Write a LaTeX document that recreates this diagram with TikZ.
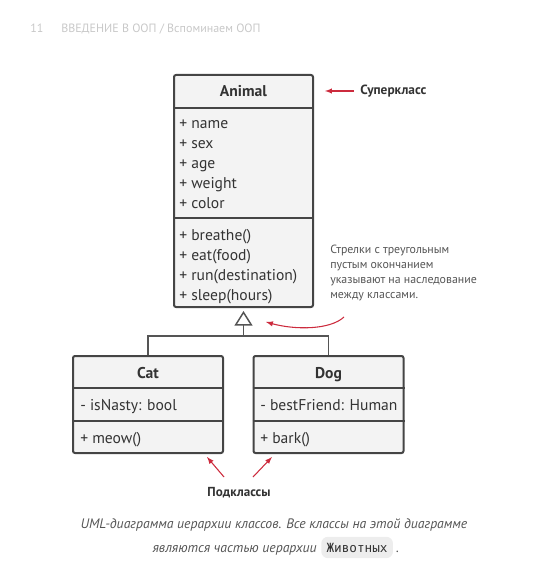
\documentclass[tikz,border=0pt]{standalone}
\usepackage{fontspec}
\setmainfont{PT Sans}
\newfontfamily\codefont{DejaVu Sans Mono}
\usetikzlibrary{arrows,arrows.meta}

\definecolor{boxline}{HTML}{454545}
\definecolor{boxfill}{HTML}{F3F3F3}
\definecolor{linegray}{HTML}{555555}
\definecolor{textgray}{HTML}{333333}
\definecolor{notegray}{HTML}{555555}
\definecolor{headgray}{HTML}{C8C8C8}
\definecolor{redarrow}{HTML}{CC2B3D}
\definecolor{codefill}{HTML}{EDEDED}

\begin{document}
\begin{tikzpicture}[x=0.75pt,y=-0.75pt]

\tikzset{classbox/.style = {draw=boxline, fill=boxfill, line width=1.5pt, rounded corners=1.5pt, inner sep=0pt}}
\tikzset{sep/.style = {draw=boxline, line width=1.5pt}}
\tikzset{member/.style = {anchor=base west, inner sep=0pt, text=textgray, font=\fontsize{11.7}{14}\selectfont}}
\tikzset{title/.style = {anchor=base, inner sep=0pt, text=textgray, font=\bfseries\fontsize{11.7}{14}\selectfont}}
\tikzset{arc/.style = {->,>=latex, draw=redarrow, line width=0.8pt}}
\tikzset{inherit/.style = {-{Triangle[open,width=13.5pt,length=11pt,line width=1.1pt]}, draw=linegray, line width=1.1pt}}
\tikzset{caption/.style = {anchor=base, inner sep=0pt, text=notegray, font=\itshape\fontsize{10.3}{18}\selectfont}}

\useasboundingbox (0,0) rectangle (545,573);

% header
\node[anchor=base west, inner sep=0pt, text=headgray, font=\fontsize{9}{11}\selectfont] (page) at (30,33) {11};
\node[anchor=base west, inner sep=0pt, text=headgray, font=\fontsize{9}{11}\selectfont] (chapter) at (61,33) {ВВЕДЕНИЕ В ООП / Вспоминаем ООП};

% classes
\node[classbox, minimum width=104.25pt, minimum height=174pt] (animal) at (243.5,191) {};
\node[classbox, minimum width=112.5pt, minimum height=72.75pt] (cat) at (148,404.5) {};
\node[classbox, minimum width=112.5pt, minimum height=72.75pt] (dog) at (328.5,404.5) {};

% separators
\draw[sep] (animal.west |- 0,108) -- (animal.east |- 0,108);
\draw[sep] (animal.west |- 0,218) -- (animal.east |- 0,218);
\draw[sep] (cat.west |- 0,388) -- (cat.east |- 0,388);
\draw[sep] (cat.west |- 0,421) -- (cat.east |- 0,421);
\draw[sep] (dog.west |- 0,388) -- (dog.east |- 0,388);
\draw[sep] (dog.west |- 0,421) -- (dog.east |- 0,421);

% titles
\node[title] (animaltitle) at (243.5,97) {Animal};
\node[title] (cattitle) at (148,378) {Cat};
\node[title] (dogtitle) at (328.5,378) {Dog};

% members
\node[member] (name) at (179,129) {+ name};
\node[member] (sex) at (179,149) {+ sex};
\node[member] (age) at (179,169) {+ age};
\node[member] (weight) at (179,189) {+ weight};
\node[member] (color) at (179,209) {+ color};
\node[member] (breathe) at (179,240) {+ breathe()};
\node[member] (eat) at (179,260) {+ eat(food)};
\node[member] (run) at (179,280) {+ run(destination)};
\node[member] (sleep) at (179,300) {+ sleep(hours)};
\node[member] (nasty) at (80,410) {- isNasty: bool};
\node[member] (meow) at (80,443) {+ meow()};
\node[member] (friend) at (260,410) {- bestFriend: Human};
\node[member] (bark) at (260,443) {+ bark()};

% inheritance
\coordinate (join) at (243.5,336);
\draw[draw=linegray, line width=1.1pt] (cat.north) |- (dog.north |- join) -- (dog.north);
\draw[inherit] (join) -- ([yshift=-2.25pt]animal.south);

% notes
\node[anchor=west, inner sep=0pt, text=textgray, font=\bfseries\fontsize{10}{11}\selectfont] (superlabel) at (360,91) {Суперкласс};
\draw[arc] ([xshift=-4.5pt]superlabel.west) -- ++(-29,0);

\node[anchor=base west, inner sep=0pt, align=left, text=notegray, font=\fontsize{8.9}{11.25}\selectfont] (note) at (330,298) {Стрелки с треугольным\\пустым окончанием\\указывают на наследование\\между классами.};
\coordinate (notetail) at (344,317);
\coordinate (notehead) at (266,322);
\draw[arc] (notetail) .. controls (330,330) and (295,330) .. (notehead);

\node[anchor=base, inner sep=0pt, text=textgray, font=\bfseries\fontsize{9.8}{11}\selectfont] (sub) at (239,496) {Подклассы};
\coordinate (cattail) at (224,477);
\coordinate (cathead) at (207,457);
\coordinate (dogtail) at (253,477);
\coordinate (doghead) at (272,457);
\draw[arc] (cattail) -- (cathead);
\draw[arc] (dogtail) -- (doghead);

% caption
\node[caption] (cap1) at (274,528) {UML-диаграмма иерархии классов. Все классы на этой диаграмме};
\node[caption, anchor=base east] (cap2) at (317,552) {являются частью иерархии};
\node[anchor=base west, fill=codefill, rounded corners=5pt, inner xsep=4pt, inner ysep=4.5pt, text=textgray, font=\codefont\fontsize{9.5}{10}\selectfont] (code) at ([xshift=3pt]cap2.base east) {Животных};
\node[caption, anchor=base west] (dot) at ([xshift=2pt]code.base east) {.};

\end{tikzpicture}
\end{document}
